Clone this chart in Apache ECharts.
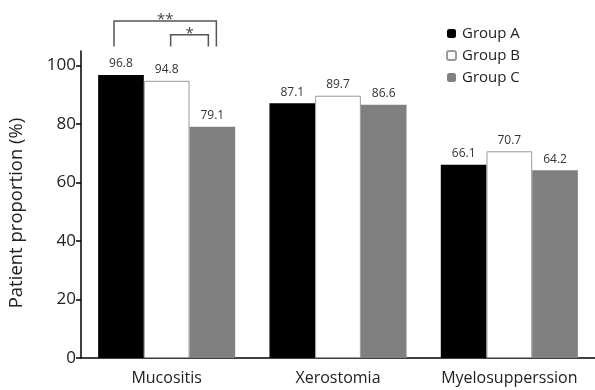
<!DOCTYPE html>
<html>
<head>
<meta charset="utf-8">
<script src="https://cdn.jsdelivr.net/npm/echarts@6/dist/echarts.min.js"></script>
<style>
  html, body { margin: 0; padding: 0; background: #fff; }
  #chart { width: 595px; height: 390px; }
</style>
</head>
<body>
<div id="chart"></div>
<script>
// Adverse events by group
const categories = ['Mucositis', 'Xerostomia', 'Myelosupperssion'];
const groupNames = ['Group A', 'Group B', 'Group C'];
const groupA = [96.8, 87.1, 66.1];
const groupB = [94.8, 89.7, 70.7];
const groupC = [79.1, 86.6, 64.2];
const yTicks = [0, 20, 40, 60, 80, 100];
// Significance brackets: [category index, from group, to group, leg bottom, bracket top, stars]
const brackets = [
  [0, 0, 2, 106.5, 115.3, '**'],
  [0, 1, 2, 106.5, 110.6, '*']
];

const FONT = '"Open Sans", Lato, sans-serif';
const chart = echarts.init(document.getElementById('chart'));

const barStyles = [
  { color: '#000000' },
  { color: '#ffffff', borderColor: '#9a9a9a', borderWidth: 1 },
  { color: '#808080' }
];
const seriesData = [groupA, groupB, groupC];

const barSeries = groupNames.map((name, i) => ({
  name: name,
  type: 'bar',
  data: seriesData[i],
  barGap: '0%',
  barCategoryGap: '20%',
  itemStyle: barStyles[i],
  label: {
    show: true,
    position: 'top',
    distance: 5,
    color: '#333',
    fontSize: 12,
    fontFamily: FONT,
    formatter: p => p.value.toFixed(1)
  }
}));

const bracketSeries = {
  type: 'custom',
  silent: true,
  clip: false,
  data: brackets,
  encode: { x: 0, y: 3 },
  renderItem: function (params, api) {
    const cat = api.value(0);
    const g1 = api.value(1);
    const g2 = api.value(2);
    const bottom = api.value(3);
    const top = api.value(4);
    const stars = brackets[params.dataIndex][5];
    const band = api.size([1, 0])[0];
    const barW = band * 0.8 / 3;
    const c = api.coord([cat, 0])[0];
    const outer = (g2 - g1) > 1;
    const x1 = c + (g1 - 1) * barW + (outer ? -7 : 4);
    const x2 = c + (g2 - 1) * barW + (outer ? 4 : -4);
    const yb = api.coord([cat, bottom])[1];
    const yt = api.coord([cat, top])[1];
    return {
      type: 'group',
      children: [
        {
          type: 'polyline',
          shape: { points: [[x1, yb], [x1, yt], [x2, yt], [x2, yb]] },
          style: { stroke: '#555', lineWidth: 1.5, fill: null }
        },
        {
          type: 'text',
          style: {
            text: stars,
            x: (x1 + x2) / 2,
            y: yt - 1,
            align: 'center',
            verticalAlign: 'middle',
            fill: '#444',
            font: '15px ' + FONT
          }
        }
      ]
    };
  }
};

chart.setOption({
  animation: false,
  backgroundColor: '#fff',
  grid: { left: 81, top: 51, bottom: 32, width: 517 },
  legend: {
    data: groupNames,
    orient: 'vertical',
    left: 441,
    top: 21,
    itemWidth: 9,
    itemHeight: 9,
    itemGap: 7,
    textStyle: { fontSize: 15, color: '#222', fontFamily: FONT, padding: [0, 0, 0, 1] }
  },
  graphic: [{
    type: 'text',
    x: 17,
    y: 213,
    rotation: Math.PI / 2,
    style: {
      text: 'Patient proportion (%)',
      align: 'center',
      verticalAlign: 'middle',
      fill: '#222',
      font: '18.5px ' + FONT
    }
  }],
  xAxis: {
    type: 'category',
    data: categories,
    axisLine: { lineStyle: { color: '#000', width: 1.5 } },
    axisTick: { show: false },
    axisLabel: { interval: 0, color: '#222', fontSize: 16, fontFamily: FONT, margin: 12 }
  },
  yAxis: {
    type: 'value',
    min: 0,
    max: 105,
    interval: 20,
    splitLine: { show: false },
    axisLine: { show: true, lineStyle: { color: '#000', width: 1.5 } },
    axisTick: { show: true, length: 5, customValues: yTicks, lineStyle: { color: '#000', width: 1.5 } },
    axisLabel: { customValues: yTicks, color: '#222', fontSize: 17, fontFamily: FONT, margin: 5 }
  },
  series: barSeries.concat([bracketSeries])
});
</script>
</body>
</html>
